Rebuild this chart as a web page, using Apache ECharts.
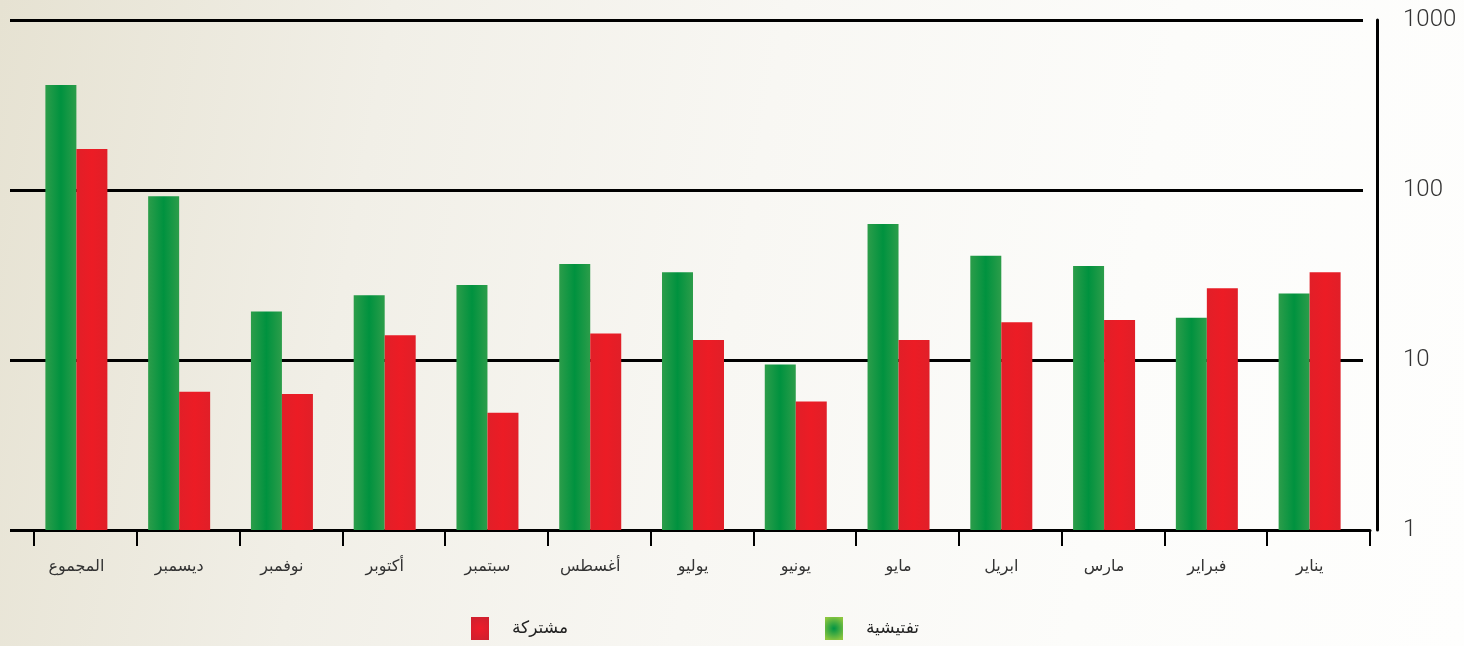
<!DOCTYPE html>
<html><head><meta charset="utf-8">
<script src="https://cdn.jsdelivr.net/npm/echarts@6/dist/echarts.min.js"></script>
<style>
html,body{margin:0;padding:0;}
body{width:1464px;height:646px;background:linear-gradient(100deg,#e6e2d2 0%,#f1efe7 25%,#f8f7f3 50%,#fcfcfa 75%,#fefefd 100%);}
#c{width:1464px;height:646px;}
</style></head><body>
<div id="c"></div>
<script>
const categories = ['المجموع','ديسمبر','نوفمبر','أكتوبر','سبتمبر','أغسطس','يوليو','يونيو','مايو','ابريل','مارس','فبراير','يناير'];
const inspection = [415, 92, 19.3, 24, 27.6, 36.7, 32.8, 9.4, 63, 41, 35.7, 17.7, 24.6];
const joint = [174, 6.5, 6.3, 14, 4.9, 14.3, 13.1, 5.7, 13.1, 16.7, 17.2, 26.4, 32.8];
const yTicks = [1, 10, 100, 1000];
const nameInspection = 'تفتيشية';
const nameJoint = 'مشتركة';

const chart = echarts.init(document.getElementById('c'));
const greenFill = {type:'linear',x:0,y:0,x2:1,y2:0,colorStops:[{offset:0,color:'#2c9d4a'},{offset:0.5,color:'#00923f'},{offset:1,color:'#2c9d4a'}]};
const redFill = {type:'linear',x:0,y:0,x2:1,y2:0,colorStops:[{offset:0,color:'#e11f28'},{offset:0.5,color:'#ec1c25'},{offset:1,color:'#e11f28'}]};
const logY = {type:'log', logBase:10, min:yTicks[0], max:yTicks[yTicks.length-1]};
chart.setOption({
  backgroundColor:'transparent',
  animation:false,
  grid:[
    {left:25, right:103, top:20, bottom:116},
    {left:34, right:94, top:20, bottom:116},
    {left:10, right:101, top:20, bottom:116}
  ],
  legend:{
    left:471, top:617, padding:0, itemGap:257, itemWidth:18, itemHeight:23,
    textStyle:{fontFamily:'DejaVu Sans', fontSize:17, color:'#222', padding:[6,0,0,18]},
    data:[
      {name:nameJoint, icon:'rect', itemStyle:{color:{type:'radial',x:0.5,y:0.5,r:0.7,colorStops:[{offset:0,color:'#ee1c2a'},{offset:1,color:'#d0202e'}]}}},
      {name:nameInspection, icon:'rect', itemStyle:{color:{type:'radial',x:0.5,y:0.5,r:0.7,colorStops:[{offset:0,color:'#009444'},{offset:1,color:'#8cc63f'}]}}}
    ]
  },
  xAxis:[
    {type:'category', gridIndex:0, data:categories, axisLine:{show:false}, axisTick:{show:false},
     axisLabel:{margin:29, fontFamily:'DejaVu Sans', fontSize:16, color:'#333'}},
    {type:'category', gridIndex:1, data:categories, axisLine:{show:true, lineStyle:{color:'#000', width:3}},
     axisTick:{show:true, length:16, lineStyle:{color:'#000', width:2}}, axisLabel:{show:false}},
    {type:'value', gridIndex:2, show:false}
  ],
  yAxis:[
    Object.assign({gridIndex:0, show:false}, logY),
    Object.assign({gridIndex:1, position:'right', offset:7,
      axisLine:{show:true, lineStyle:{color:'#000', width:3}}, axisTick:{show:false}, splitLine:{show:false},
      axisLabel:{margin:26, fontFamily:'Roboto', fontWeight:300, fontSize:24, color:'#333', formatter:(v)=>String(v)}}, logY),
    Object.assign({gridIndex:2, axisLine:{show:false}, axisTick:{show:false}, axisLabel:{show:false},
      splitLine:{show:true, lineStyle:{color:'#000', width:3}}}, logY)
  ],
  series:[
    {name:nameInspection, type:'bar', xAxisIndex:0, yAxisIndex:0, data:inspection, barWidth:31, barGap:'0%', itemStyle:{color:greenFill}},
    {name:nameJoint, type:'bar', xAxisIndex:0, yAxisIndex:0, data:joint, barWidth:31, barGap:'0%', itemStyle:{color:redFill}}
  ]
});
</script>
</body></html>
